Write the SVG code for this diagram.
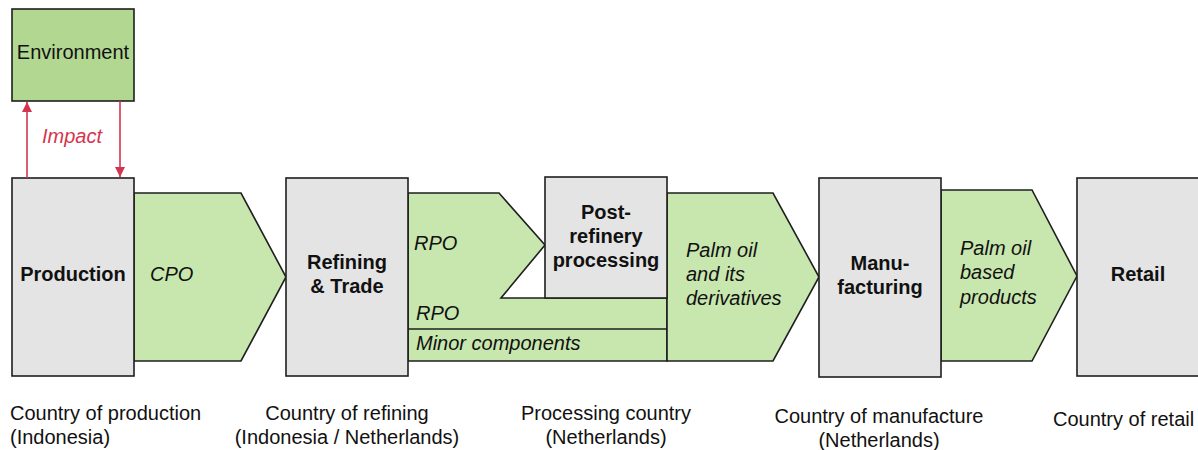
<svg xmlns="http://www.w3.org/2000/svg" width="1198" height="450" viewBox="0 0 1198 450">
  <defs>
    <style>
      .stage { fill: #e4e4e4; stroke: #1f1f1f; stroke-width: 1.6; }
      .env { fill: #b2d791; stroke: #1f1f1f; stroke-width: 1.6; }
      .flow { fill: #c8e7ae; stroke: #1f1f1f; stroke-width: 1.6; stroke-linejoin: miter; }
      .sep { stroke: #1f1f1f; stroke-width: 1.6; fill: none; }
      .t { font-family: "Liberation Sans", Arial, sans-serif; font-size: 20px; fill: #111; }
      .b { font-weight: bold; }
      .i { font-style: italic; }
      .c { text-anchor: middle; }
      .red { fill: #d4354e; }
      .link { stroke: #d4354e; stroke-width: 1.6; fill: none; }
    </style>
    <marker id="arrowRed" viewBox="0 0 10 10" refX="10" refY="5" markerWidth="14" markerHeight="10" markerUnits="userSpaceOnUse" orient="auto">
      <path d="M0,0 L10,5 L0,10 Z" fill="#d4354e"/>
    </marker>
  </defs>

  <!-- flows between stages -->
  <g id="flow-cpo">
    <polygon class="flow" points="134,193 241,193 286,277 241,361 134,361"/>
    <text class="t i" x="150" y="281">CPO</text>
  </g>

  <g id="flow-rpo">
    <polygon class="flow" points="408,193 499,193 545,245 501,298 667,298 667,361 408,361"/>
    <line class="sep" x1="408" y1="329" x2="667" y2="329"/>
    <text class="t i" x="414" y="250">RPO</text>
    <text class="t i" x="416" y="320">RPO</text>
    <text class="t i" x="416" y="350">Minor components</text>
  </g>

  <g id="flow-derivatives">
    <polygon class="flow" points="667,193 773,193 819,277 773,361 667,361"/>
    <text class="t i" x="686" y="257">Palm oil</text>
    <text class="t i" x="686" y="281">and its</text>
    <text class="t i" x="686" y="305">derivatives</text>
  </g>

  <g id="flow-products">
    <polygon class="flow" points="941,190 1032,190 1077,276 1032,361 941,361"/>
    <text class="t i" x="960" y="255">Palm oil</text>
    <text class="t i" x="960" y="279">based</text>
    <text class="t i" x="960" y="304">products</text>
  </g>

  <!-- stages -->
  <g id="environment">
    <rect class="env" x="12" y="9" width="122" height="92"/>
    <text class="t c" x="73" y="59">Environment</text>
  </g>

  <g id="production">
    <rect class="stage" x="12" y="178" width="122" height="198"/>
    <text class="t b c" x="73" y="281">Production</text>
  </g>

  <g id="refining">
    <rect class="stage" x="286" y="178" width="122" height="198"/>
    <text class="t b c" x="347" y="269">Refining</text>
    <text class="t b c" x="347" y="293">&amp; Trade</text>
  </g>

  <g id="post-refinery">
    <rect class="stage" x="545" y="177" width="122" height="121"/>
    <text class="t b c" x="606" y="219">Post-</text>
    <text class="t b c" x="606" y="243">refinery</text>
    <text class="t b c" x="606" y="267">processing</text>
  </g>

  <g id="manufacturing">
    <rect class="stage" x="819" y="178" width="122" height="199"/>
    <text class="t b c" x="880" y="270">Manu-</text>
    <text class="t b c" x="880" y="294">facturing</text>
  </g>

  <g id="retail">
    <rect class="stage" x="1077" y="178" width="124" height="198"/>
    <text class="t b c" x="1138" y="281">Retail</text>
  </g>

  <!-- impact links between production and environment -->
  <g id="connectors">
    <line class="link" x1="27" y1="178" x2="27" y2="102" marker-end="url(#arrowRed)"/>
    <line class="link" x1="120" y1="101" x2="120" y2="177" marker-end="url(#arrowRed)"/>
    <text class="t i red" x="42" y="143">Impact</text>
  </g>

  <!-- country captions -->
  <g id="captions">
    <text class="t" x="10" y="420">Country of production</text>
    <text class="t" x="10" y="444">(Indonesia)</text>
    <text class="t c" x="347" y="420">Country of refining</text>
    <text class="t c" x="347" y="444">(Indonesia / Netherlands)</text>
    <text class="t c" x="606" y="420">Processing country</text>
    <text class="t c" x="606" y="444">(Netherlands)</text>
    <text class="t c" x="879" y="423">Country of manufacture</text>
    <text class="t c" x="879" y="447">(Netherlands)</text>
    <text class="t" x="1053" y="426">Country of retail</text>
  </g>
</svg>
